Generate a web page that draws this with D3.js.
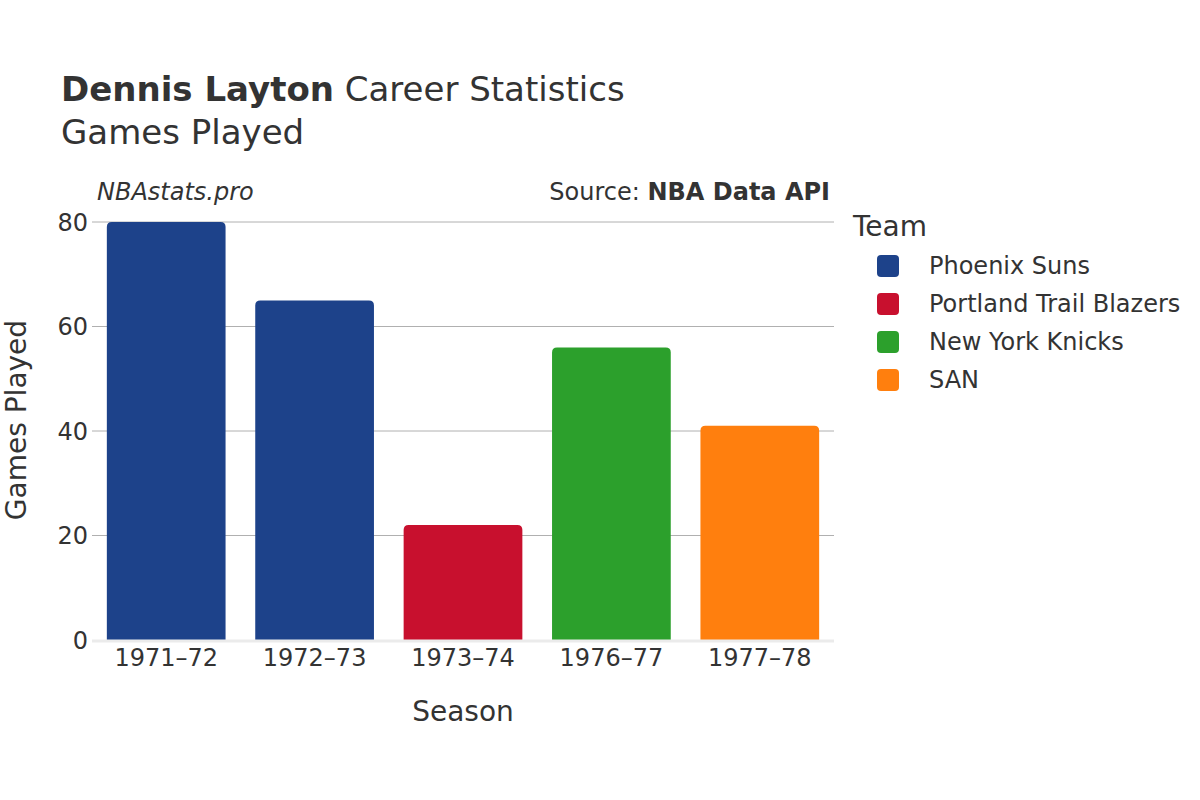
<!DOCTYPE html>
<html><head><meta charset="utf-8">
<script src="https://cdn.jsdelivr.net/npm/d3@7"></script>
<style>body{margin:0;background:#fff;font-family:"DejaVu Sans",sans-serif;}</style>
</head><body><svg id="c" width="1200" height="800"></svg>
<script>
const seasons = ["1971–72","1972–73","1973–74","1976–77","1977–78"];
const games = [80,65,22,56,41];
const teams = ["Phoenix Suns","Phoenix Suns","Portland Trail Blazers","New York Knicks","SAN"];
const legendTeams = ["Phoenix Suns","Portland Trail Blazers","New York Knicks","SAN"];
const teamColors = ["#1d428a","#c8102e","#2ca02c","#ff7f0e"];
const yTicks = [0,20,40,60,80];

const svg = d3.select("#c");
const txt = "#333";
const L=92,R=834,T=222,B=640;
const x = d3.scaleBand().domain(seasons).range([L,R]).paddingInner(0.2).paddingOuter(0.1);
const y = d3.scaleLinear().domain([0,80]).range([B,T]);
const color = d3.scaleOrdinal().domain(legendTeams).range(teamColors);

// title
const title = svg.append("text").attr("x",61).attr("y",101).attr("font-size",34).attr("fill",txt);
title.append("tspan").attr("font-weight","bold").text("Dennis Layton");
title.append("tspan").text(" Career Statistics");
svg.append("text").attr("x",61).attr("y",144).attr("font-size",34).attr("fill",txt).text("Games Played");

svg.append("text").attr("x",97).attr("y",200).attr("font-size",24).attr("font-style","italic").attr("fill",txt).text("NBAstats.pro");
const src = svg.append("text").attr("x",830).attr("y",200).attr("font-size",24).attr("text-anchor","end").attr("fill",txt);
src.append("tspan").text("Source: ");
src.append("tspan").attr("font-weight","bold").text("NBA Data API");

// grid
svg.append("g").selectAll("line").data(yTicks.filter(d=>d>0)).join("line")
  .attr("x1",L).attr("x2",R).attr("y1",d=>y(d)).attr("y2",d=>y(d))
  .attr("stroke","#b0b0b0").attr("stroke-width",1);

// y axis
const ya = svg.append("g").attr("transform",`translate(${L},0)`)
  .call(d3.axisLeft(y).tickValues(yTicks).tickSize(0).tickPadding(4));
ya.select(".domain").remove();
ya.selectAll("text").attr("font-size",24).attr("fill",txt).attr("font-family","DejaVu Sans").attr("dy","0.35em");

// bars
const r=5;
svg.append("g").selectAll("path").data(seasons).join("path")
  .attr("d",(s,i)=>{
    const x0=x(s),w=x.bandwidth(),y0=y(games[i]),yb=y(0);
    return `M${x0},${yb}V${y0+r}Q${x0},${y0} ${x0+r},${y0}H${x0+w-r}Q${x0+w},${y0} ${x0+w},${y0+r}V${yb}Z`;
  })
  .attr("fill",(s,i)=>color(teams[i]));

// zero line
svg.append("line").attr("x1",L).attr("x2",R).attr("y1",y(0)+1).attr("y2",y(0)+1)
  .attr("stroke","#ebebeb").attr("stroke-width",3);

// x axis
const xa = svg.append("g").attr("transform",`translate(0,${B})`)
  .call(d3.axisBottom(x).tickSize(0).tickPadding(9));
xa.select(".domain").remove();
xa.selectAll("text").attr("font-size",24).attr("fill",txt).attr("font-family","DejaVu Sans").attr("dy","0.71em");

svg.append("text").attr("x",463).attr("y",721).attr("text-anchor","middle").attr("font-size",28).attr("fill",txt).text("Season");
svg.append("text").attr("transform","translate(26,420) rotate(-90)").attr("text-anchor","middle").attr("font-size",28).attr("fill",txt).text("Games Played");

// legend
svg.append("text").attr("x",853).attr("y",236).attr("font-size",28).attr("fill",txt).text("Team");
const lg = svg.append("g").selectAll("g").data(legendTeams).join("g")
  .attr("transform",(d,i)=>`translate(0,${266+i*38})`);
lg.append("rect").attr("x",877).attr("y",-11).attr("width",22).attr("height",22).attr("rx",4).attr("fill",d=>color(d));
lg.append("text").attr("x",929).attr("y",0).attr("dy","0.35em").attr("font-size",24).attr("fill",txt).text(d=>d);
</script></body></html>
